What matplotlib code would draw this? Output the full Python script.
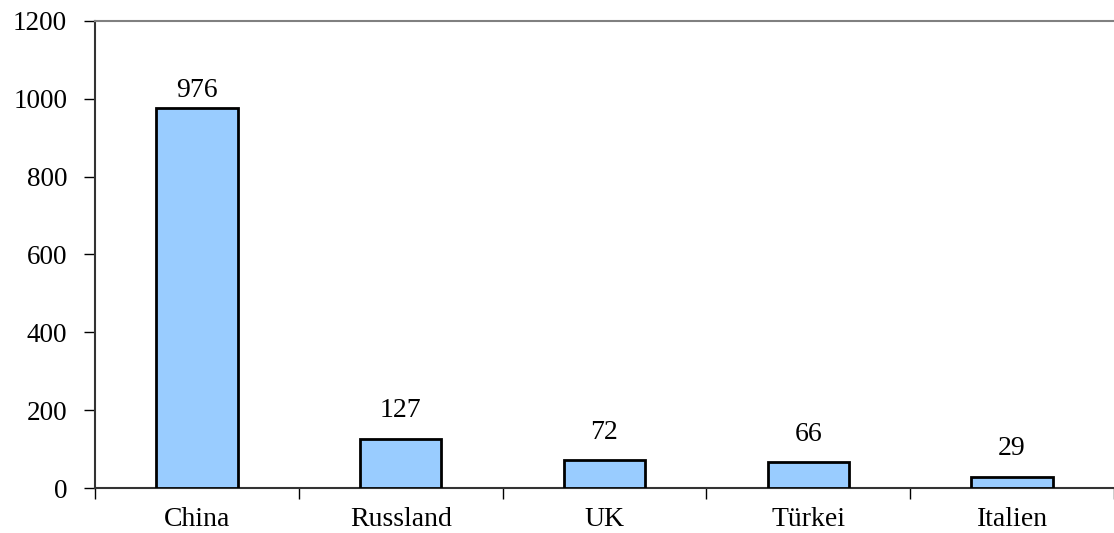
import matplotlib.pyplot as plt
import numpy as np

# data
countries = ["China", "Russland", "UK", "Türkei", "Italien"]
values = [976, 127, 72, 66, 29]

plt.rcParams['font.family'] = ['Liberation Serif', 'DejaVu Serif']

fig = plt.figure(figsize=(11.14, 5.33), dpi=100)
# axes box in pixels: left 95, right 1114, top 21, bottom 488
ax = fig.add_axes([95 / 1114, (533 - 488) / 533, (1114 - 95) / 1114, (488 - 21) / 533])

x = np.arange(len(countries))
ax.bar(x, values, width=0.40, color='#99CCFF', edgecolor='black', linewidth=2, zorder=3)

for xi, v in zip(x, values):
    # labels close to the top of the plot sit nearer the bar
    off = 4 if v > 900 else 11
    ax.annotate(str(v), (xi, v), xytext=(0, off), textcoords='offset points',
                ha='center', va='bottom', fontsize=20)

# category spacing is ~205.6px, right edge of plot sits off the image
ax.set_xlim(-0.5, (1114 - 95) / 205.6 - 0.5)
ax.set_ylim(0, 1200)
ax.set_yticks(np.arange(0, 1201, 200))
ax.tick_params(axis='y', labelsize=19.5, length=8, width=1, direction='out', pad=12)

ax.set_xticks(np.arange(-0.5, len(countries), 1.0))
ax.set_xticklabels([])
ax.set_xticks(x, minor=True)
ax.set_xticklabels(countries, minor=True, fontsize=20)
ax.tick_params(axis='x', which='major', length=8, width=1, direction='out')
ax.tick_params(axis='x', which='minor', length=0, pad=14)

ax.spines['right'].set_visible(False)
ax.spines['top'].set_color('#808080')
ax.spines['top'].set_linewidth(1.5)
ax.spines['left'].set_color('#333333')
ax.spines['bottom'].set_color('#333333')
ax.spines['left'].set_linewidth(1.5)
ax.spines['bottom'].set_linewidth(1.5)

fig.savefig('out.png', dpi=100)
